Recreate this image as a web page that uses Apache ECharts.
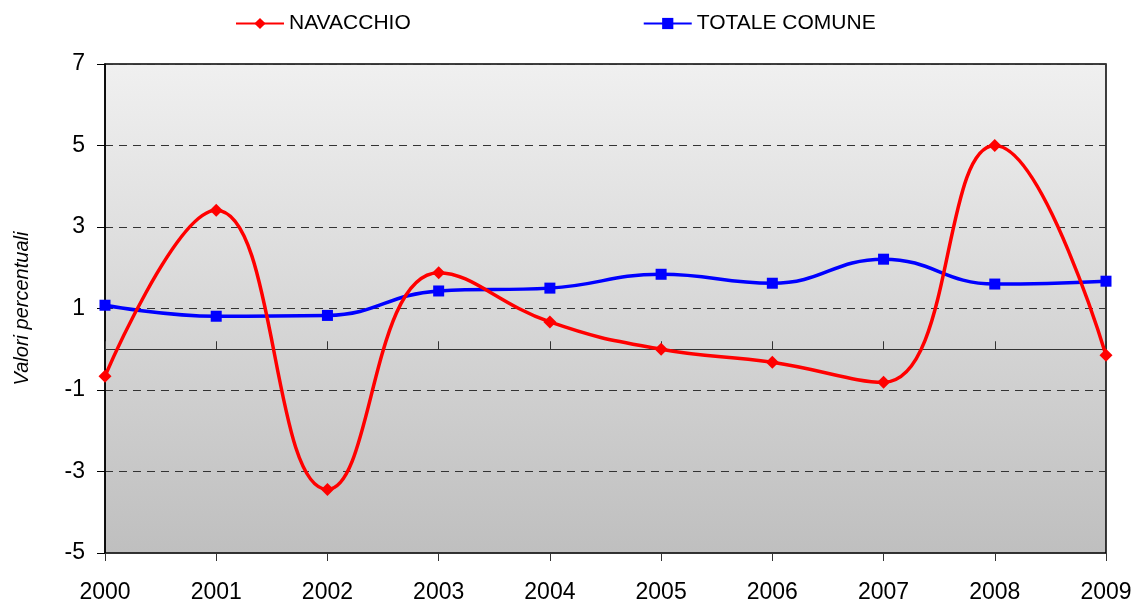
<!DOCTYPE html>
<html>
<head>
<meta charset="utf-8">
<script src="https://cdn.jsdelivr.net/npm/echarts@6/dist/echarts.min.js"></script>
<style>html,body{margin:0;padding:0;background:#fff;}#c{width:1141px;height:608px;}</style>
</head>
<body>
<div id="c"></div>
<script>
const years = ['2000','2001','2002','2003','2004','2005','2006','2007','2008','2009'];
const navacchio = [-0.66, 3.41, -3.44, 1.88, 0.67, 0.0, -0.32, -0.81, 5.0, -0.15];
const totaleComune = [1.08, 0.81, 0.83, 1.43, 1.50, 1.84, 1.62, 2.21, 1.60, 1.67];
const yTicks = {min: -5, max: 7, interval: 2};

const chart = echarts.init(document.getElementById('c'));
const font = 'Liberation Sans, Arial, sans-serif';
const hiddenAxisBase = {
  type: 'category', data: years, boundaryGap: false, position: 'bottom',
  axisLine: {show: true, onZero: true, lineStyle: {color: '#333', width: 1}},
  axisLabel: {show: false}, splitLine: {show: false}
};
chart.setOption({
  animation: false,
  textStyle: {fontFamily: font},
  legend: {
    top: 8, left: 230, itemGap: 232, itemWidth: 48, itemHeight: 14,
    textStyle: {fontSize: 21, color: '#000', fontFamily: font},
    data: [{name: 'NAVACCHIO'}, {name: 'TOTALE COMUNE'}]
  },
  grid: {
    left: 105, right: 35, top: 64, bottom: 55, show: true,
    outerBoundsMode: 'none', containLabel: false,
    borderColor: '#000', borderWidth: 1.5,
    backgroundColor: {type: 'linear', x: 0, y: 0, x2: 0, y2: 1,
      colorStops: [{offset: 0, color: '#f0f0f0'}, {offset: 1, color: '#bfbfbf'}]}
  },
  xAxis: [
    {type: 'category', data: years, boundaryGap: false, position: 'bottom',
     axisLine: {show: false, onZero: false}, axisTick: {show: false},
     axisLabel: {fontSize: 23, color: '#000', margin: 28, fontFamily: font},
     splitLine: {show: false}},
    Object.assign({}, hiddenAxisBase, {axisTick: {show: true, inside: true, length: 8, lineStyle: {color: '#333'}}}),
    Object.assign({}, hiddenAxisBase, {axisTick: {show: true, inside: false, length: 8, lineStyle: {color: '#333'}}})
  ],
  yAxis: {
    type: 'value', min: yTicks.min, max: yTicks.max, interval: yTicks.interval,
    name: 'Valori percentuali', nameLocation: 'middle', nameGap: 73,
    nameTextStyle: {fontSize: 20, fontStyle: 'italic', color: '#000', fontFamily: font},
    axisLine: {show: true, lineStyle: {color: '#000', width: 1.5}},
    axisTick: {show: true, length: 8, lineStyle: {color: '#000'}},
    axisLabel: {fontSize: 23, color: '#000', margin: 20, fontFamily: font},
    splitLine: {show: true, lineStyle: {color: '#333', type: [8, 6], width: 1.2}}
  },
  series: [
    {name: 'NAVACCHIO', type: 'line', data: navacchio, smooth: 0.45,
     symbol: 'diamond', symbolSize: 13,
     lineStyle: {color: '#ff0000', width: 3.5}, itemStyle: {color: '#ff0000'}, z: 4},
    {name: 'TOTALE COMUNE', type: 'line', data: totaleComune, smooth: 0.45,
     symbol: 'rect', symbolSize: 11,
     lineStyle: {color: '#0000ff', width: 3.5}, itemStyle: {color: '#0000ff'}, z: 3}
  ]
});
</script>
</body>
</html>
